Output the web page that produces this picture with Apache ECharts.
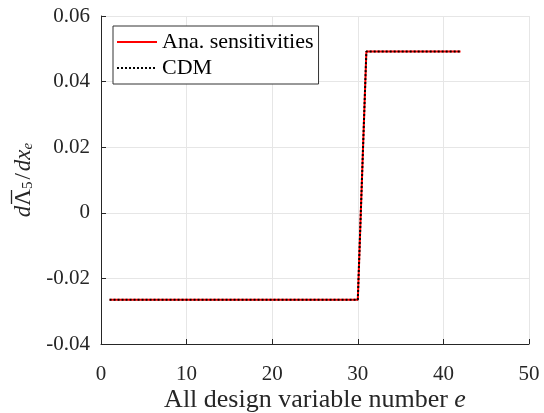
<!DOCTYPE html>
<html>
<head>
<meta charset="utf-8">
<script src="https://cdn.jsdelivr.net/npm/echarts@6/dist/echarts.min.js"></script>
<style>
  html, body { margin: 0; padding: 0; background: #fff; }
  #chart { width: 544px; height: 413px; }
</style>
</head>
<body>
<div id="chart"></div>
<script>
// design variable numbers e = 1..42
var designVars = [1, 2, 3, 4, 5, 6, 7, 8, 9, 10, 11, 12, 13, 14, 15, 16, 17, 18, 19, 20,
                  21, 22, 23, 24, 25, 26, 27, 28, 29, 30, 31, 32, 33, 34, 35, 36, 37, 38, 39, 40,
                  41, 42];
// analytical sensitivities
var anaValues = [-0.0265, -0.0265, -0.0265, -0.0265, -0.0265, -0.0265, -0.0265, -0.0265, -0.0265, -0.0265,
                 -0.0265, -0.0265, -0.0265, -0.0265, -0.0265, -0.0265, -0.0265, -0.0265, -0.0265, -0.0265,
                 -0.0265, -0.0265, -0.0265, -0.0265, -0.0265, -0.0265, -0.0265, -0.0265, -0.0265, -0.0265,
                 0.0492, 0.0492, 0.0492, 0.0492, 0.0492, 0.0492, 0.0492, 0.0492, 0.0492, 0.0492,
                 0.0492, 0.0492];
// central difference method
var cdmValues = [-0.0265, -0.0265, -0.0265, -0.0265, -0.0265, -0.0265, -0.0265, -0.0265, -0.0265, -0.0265,
                 -0.0265, -0.0265, -0.0265, -0.0265, -0.0265, -0.0265, -0.0265, -0.0265, -0.0265, -0.0265,
                 -0.0265, -0.0265, -0.0265, -0.0265, -0.0265, -0.0265, -0.0265, -0.0265, -0.0265, -0.0265,
                 0.0492, 0.0492, 0.0492, 0.0492, 0.0492, 0.0492, 0.0492, 0.0492, 0.0492, 0.0492,
                 0.0492, 0.0492];
var seriesNames = ['Ana. sensitivities', 'CDM'];

function pairs(xs, ys) {
    var out = [];
    for (var i = 0, len = xs.length; i < len; i++) {
        out.push([xs[i], ys[i]]);
    }
    return out;
}

var FONT = '"Liberation Serif", "DejaVu Serif", serif';
var chart = echarts.init(document.getElementById('chart'), null, { renderer: 'canvas' });

var option = {
    animation: false,
    backgroundColor: '#fff',
    textStyle: { fontFamily: FONT, color: '#262626' },
    grid: { left: 101, right: 15, top: 16, bottom: 69, containLabel: false, outerBoundsMode: 'none' },
    legend: {
        orient: 'vertical',
        left: 113,
        top: 26,
        itemWidth: 40,
        itemHeight: 14,
        itemGap: 4,
        padding: [5, 5, 5, 3],
        borderColor: '#333',
        borderWidth: 1,
        borderRadius: 0,
        backgroundColor: '#fff',
        itemStyle: { opacity: 0 },
        textStyle: { fontFamily: FONT, fontSize: 22, color: '#000' },
        data: seriesNames
    },
    // bar over the Lambda of the y-axis name
    graphic: [{
        type: 'line',
        silent: true,
        shape: { x1: 11.5, y1: 190, x2: 11.5, y2: 204 },
        style: { stroke: '#262626', lineWidth: 1.3 }
    }],
    xAxis: {
        type: 'value',
        min: 0,
        max: 50,
        interval: 10,
        name: 'All design variable number {i|e}',
        nameLocation: 'middle',
        nameGap: 43,
        nameMoveOverlap: false,
        nameTextStyle: {
            fontFamily: FONT, fontSize: 26, color: '#262626',
            rich: { i: { fontFamily: FONT, fontSize: 26, fontStyle: 'italic', color: '#262626' } }
        },
        axisLine: { onZero: false, lineStyle: { color: '#262626', width: 1 } },
        axisTick: { inside: true, length: 5, lineStyle: { color: '#262626' } },
        axisLabel: { fontFamily: FONT, fontSize: 21, color: '#262626', margin: 20 },
        splitLine: { show: true, lineStyle: { color: '#e6e6e6', width: 1 } }
    },
    yAxis: {
        type: 'value',
        min: -0.04,
        max: 0.06,
        interval: 0.02,
        name: '{i|d}{b|Λ}{s|5}{n|/}{i|dx}{s2|e}',
        nameLocation: 'middle',
        nameGap: 58,
        nameRotate: 90,
        nameTextStyle: {
            fontFamily: FONT, fontSize: 23, color: '#262626',
            rich: {
                i: { fontFamily: FONT, fontSize: 23, fontStyle: 'italic', color: '#262626' },
                b: { fontFamily: FONT, fontSize: 23, color: '#262626' },
                n: { fontFamily: FONT, fontSize: 23, color: '#262626', padding: [0, 2, 0, 2] },
                s: { fontFamily: FONT, fontSize: 15, color: '#262626', verticalAlign: 'bottom', padding: [8, 0, 0, 0] },
                s2: { fontFamily: FONT, fontSize: 15, fontStyle: 'italic', color: '#262626', verticalAlign: 'bottom', padding: [8, 0, 0, 0] }
            }
        },
        axisLine: { show: true, onZero: false, lineStyle: { color: '#262626', width: 1 } },
        axisTick: { show: true, inside: true, length: 5, lineStyle: { color: '#262626' } },
        axisLabel: {
            fontFamily: FONT, fontSize: 21, color: '#262626', margin: 11,
            formatter: function (v) {
                if (Math.abs(v) < 1e-9) return '0';
                return v.toFixed(2);
            }
        },
        splitLine: { show: true, lineStyle: { color: '#e6e6e6', width: 1 } }
    },
    series: [
        {
            name: seriesNames[0],
            type: 'line',
            showSymbol: false,
            symbol: 'none',
            color: '#ff0000',
            lineStyle: { color: '#ff0000', width: 2 },
            data: pairs(designVars, anaValues)
        },
        {
            name: seriesNames[1],
            type: 'line',
            showSymbol: false,
            symbol: 'none',
            color: '#000',
            lineStyle: { color: '#000', width: 2, type: [2, 2] },
            data: pairs(designVars, cdmValues)
        }
    ]
};
chart.setOption(option);
</script>
</body>
</html>
